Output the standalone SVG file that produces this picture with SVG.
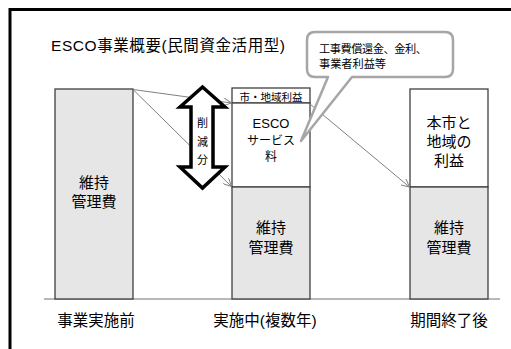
<svg xmlns="http://www.w3.org/2000/svg" width="511" height="349" viewBox="0 0 511 349">
<defs>
<style>
.t{font-family:"Liberation Sans","Noto Sans CJK JP",sans-serif;fill:#000}
.bar{stroke:#404040;stroke-width:1.3}
.g{fill:#e6e6e6}
.w{fill:#fff}
.c{stroke:#808080;stroke-width:1;fill:none}
</style>
<marker id="ah" viewBox="0 0 10 10" refX="10" refY="5" markerWidth="8" markerHeight="8" markerUnits="userSpaceOnUse" orient="auto">
<path d="M0,0 L10,5 L0,10" fill="none" stroke="#808080" stroke-width="1.2"/>
</marker>
</defs>
<rect width="511" height="349" fill="#fff"/>
<path d="M10,349 V9.5 H511" fill="none" stroke="#000" stroke-width="3"/>
<text class="t" x="51" y="51" font-size="15.5" textLength="234" lengthAdjust="spacing">ESCO事業概要(民間資金活用型)</text>
<line x1="44" y1="299" x2="500" y2="299" stroke="#a0a0a0" stroke-width="1.5"/>
<g id="bar-before">
<rect class="bar g" x="55" y="89" width="78" height="210"/>
<text class="t" x="94" y="188" font-size="15" text-anchor="middle">維持</text>
<text class="t" x="94" y="207" font-size="15" text-anchor="middle">管理費</text>
</g>
<g id="bar-during">
<rect class="bar w" x="232" y="88" width="78" height="15"/>
<rect class="bar w" x="232" y="103" width="78" height="84"/>
<rect class="bar g" x="232" y="187" width="78" height="112"/>
<text class="t" x="271" y="100.5" font-size="10.5" text-anchor="middle">市・地域利益</text>
<text class="t" x="271" y="128" font-size="13" text-anchor="middle">ESCO</text>
<text class="t" x="271" y="145" font-size="12" text-anchor="middle">サービス</text>
<text class="t" x="271" y="161" font-size="12" text-anchor="middle">料</text>
<text class="t" x="271" y="233" font-size="15" text-anchor="middle">維持</text>
<text class="t" x="271" y="253" font-size="15" text-anchor="middle">管理費</text>
</g>
<g id="bar-after">
<rect class="bar w" x="410" y="89" width="78" height="98"/>
<rect class="bar g" x="410" y="187" width="78" height="112"/>
<text class="t" x="449" y="128" font-size="15" text-anchor="middle">本市と</text>
<text class="t" x="449" y="147" font-size="15" text-anchor="middle">地域の</text>
<text class="t" x="449" y="166" font-size="15" text-anchor="middle">利益</text>
<text class="t" x="449" y="233" font-size="15" text-anchor="middle">維持</text>
<text class="t" x="449" y="253" font-size="15" text-anchor="middle">管理費</text>
</g>
<g id="connectors">
<line class="c" x1="133" y1="89.5" x2="231.5" y2="103" marker-end="url(#ah)"/>
<line class="c" x1="133" y1="89.5" x2="231.5" y2="186.5" marker-end="url(#ah)"/>
<line class="c" x1="310" y1="104" x2="409.5" y2="187" marker-end="url(#ah)"/>
</g>
<g id="reduction-arrow">
<polygon points="202.5,87 225,107 213,107 213,167 225,167 202.5,188 180,167 191,167 191,107 180,107" fill="#fff" stroke="#000" stroke-width="3.5" stroke-linejoin="miter"/>
<text class="t" x="202.5" y="127" font-size="11" text-anchor="middle">削</text>
<text class="t" x="202.5" y="146" font-size="11" text-anchor="middle">減</text>
<text class="t" x="202.5" y="164" font-size="11" text-anchor="middle">分</text>
</g>
<g id="callout">
<path d="M315,32 H445 Q453,32 453,40 V69 Q453,77 445,77 H352 L301,141 L328,77 H315 Q307,77 307,69 V40 Q307,32 315,32 Z" fill="#fff" stroke="#a6a6a6" stroke-width="2.5" stroke-linejoin="round"/>
<text class="t" x="319" y="53" font-size="11.2" textLength="108" lengthAdjust="spacing">工事費償還金、金利、</text>
<text class="t" x="319" y="68" font-size="11.2" textLength="67" lengthAdjust="spacing">事業者利益等</text>
</g>
<g id="labels">
<text class="t" x="96" y="326" font-size="15.5" text-anchor="middle">事業実施前</text>
<text class="t" x="265" y="326" font-size="15.5" text-anchor="middle">実施中(複数年)</text>
<text class="t" x="449" y="326" font-size="15.5" text-anchor="middle">期間終了後</text>
</g>
</svg>
